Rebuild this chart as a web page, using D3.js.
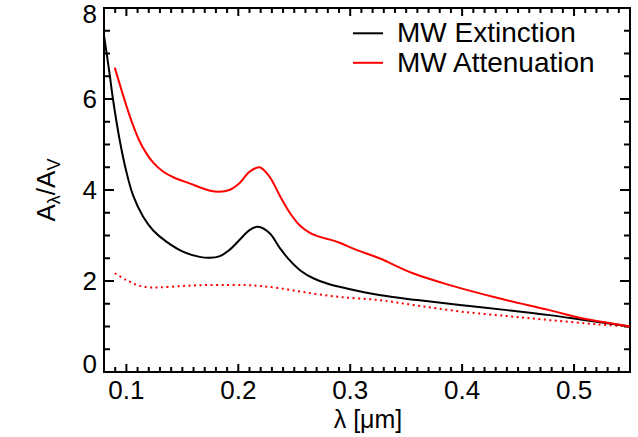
<!DOCTYPE html>
<html>
<head>
<meta charset="utf-8">
<script src="https://cdn.jsdelivr.net/npm/d3@7"></script>
<style>
  body { margin: 0; background: #fff; }
  svg text { font-family: "Liberation Sans", Arial, Helvetica, sans-serif; fill: #000; }
</style>
</head>
<body>
<svg id="myPlot" width="638" height="437"></svg>
<script>
// MW extinction curve (black)
const extWave = [0.080, 0.085, 0.088, 0.094, 0.100, 0.106, 0.115, 0.124, 0.136, 0.151, 0.1655, 0.1744, 0.183, 0.192, 0.201, 0.210, 0.2176, 0.228, 0.237, 0.245, 0.256, 0.267, 0.280, 0.296, 0.326, 0.360, 0.398, 0.440, 0.478, 0.507, 0.530, 0.550];
const extVal  = [7.40, 6.55, 6.00, 5.10, 4.40, 3.88, 3.41, 3.11, 2.86, 2.64, 2.53, 2.51, 2.54, 2.68, 2.90, 3.12, 3.19, 3.05, 2.73, 2.48, 2.22, 2.06, 1.94, 1.84, 1.69, 1.58, 1.47, 1.36, 1.25, 1.15, 1.07, 1.00];

// MW attenuation (red solid)
const attWave = [0.0896, 0.095, 0.100, 0.106, 0.112, 0.118, 0.124, 0.133, 0.142, 0.157, 0.174, 0.183, 0.192, 0.201, 0.210, 0.219, 0.228, 0.237, 0.246, 0.255, 0.264, 0.273, 0.282, 0.2905, 0.305, 0.326, 0.356, 0.389, 0.433, 0.478, 0.507, 0.530, 0.550];
const attVal  = [6.69, 6.25, 5.85, 5.42, 5.06, 4.80, 4.60, 4.40, 4.28, 4.14, 3.99, 3.96, 4.00, 4.15, 4.40, 4.50, 4.29, 3.88, 3.50, 3.22, 3.06, 2.97, 2.91, 2.84, 2.69, 2.50, 2.17, 1.91, 1.62, 1.36, 1.18, 1.08, 1.00];

// red dotted
const dotWave = [0.0896, 0.100, 0.110, 0.120, 0.130, 0.150, 0.170, 0.190, 0.207, 0.220, 0.237, 0.260, 0.290, 0.326, 0.360, 0.398, 0.440, 0.478, 0.520, 0.550];
const dotVal  = [2.17, 2.02, 1.91, 1.86, 1.86, 1.89, 1.91, 1.91, 1.91, 1.89, 1.84, 1.75, 1.65, 1.58, 1.46, 1.33, 1.23, 1.14, 1.05, 1.00];

const xTicks = [0.1, 0.2, 0.3, 0.4, 0.5];
const yTicks = [0, 2, 4, 6, 8];
const legendNames = ["MW Extinction", "MW Attenuation"];

const svg = d3.select("#myPlot");
const pLeft = 104, pRight = 630, pTop = 8, pBottom = 372;

const x = d3.scaleLinear().domain([0.08, 0.55]).range([pLeft, pRight]);
const y = d3.scaleLinear().domain([0, 8]).range([pBottom, pTop]);

const xMinor = d3.range(9, 55).map(d => d / 100).filter(d => xTicks.indexOf(d) < 0);
const yMinor = d3.range(0, 8.01, 0.5).filter(d => d % 2 !== 0);

// ticks, drawn inward on all four sides
const tickG = svg.append("g").attr("fill", "#000");
xMinor.concat(xTicks).forEach(function (d) {
  const len = xTicks.indexOf(d) >= 0 ? 8 : 5;
  tickG.append("rect").attr("x", x(d) - 1).attr("y", pBottom - len)
    .attr("width", 2).attr("height", len);
  tickG.append("rect").attr("x", x(d) - 1).attr("y", pTop)
    .attr("width", 2).attr("height", len);
});
yMinor.concat(yTicks).forEach(function (d) {
  const len = yTicks.indexOf(d) >= 0 ? 10 : 6;
  tickG.append("rect").attr("x", pLeft).attr("y", y(d) - 1)
    .attr("width", len).attr("height", 2);
  tickG.append("rect").attr("x", pRight - len).attr("y", y(d) - 1)
    .attr("width", len).attr("height", 2);
});

// frame
svg.append("rect")
  .attr("x", pLeft).attr("y", pTop)
  .attr("width", pRight - pLeft).attr("height", pBottom - pTop)
  .attr("fill", "none").attr("stroke", "#000").attr("stroke-width", 2);

// tick labels
svg.append("g").selectAll("text").data(xTicks).enter().append("text")
  .attr("x", d => x(d)).attr("y", 399)
  .attr("text-anchor", "middle").style("font-size", "26px")
  .text(d => d.toFixed(1));

svg.append("g").selectAll("text").data(yTicks).enter().append("text")
  .attr("x", 97)
  .attr("y", d => Math.min(Math.max(y(d), pTop + 6), pBottom - 8) + 9)
  .attr("text-anchor", "end").style("font-size", "26px")
  .text(d => d);

// axis titles
svg.append("text").attr("x", 368).attr("y", 428)
  .attr("text-anchor", "middle").style("font-size", "25px")
  .text("λ [μm]");

const yt = svg.append("text")
  .attr("transform", "translate(55,190) rotate(-90)")
  .attr("text-anchor", "middle").style("font-size", "26px");
yt.append("tspan").text("A");
yt.append("tspan").attr("dy", 5).style("font-size", "18px").text("λ");
yt.append("tspan").attr("dy", -5).text("/A");
yt.append("tspan").attr("dy", 5).style("font-size", "18px").text("V");

// curves
const line = d3.line()
  .x(d => x(d[0])).y(d => y(d[1]))
  .curve(d3.curveCatmullRom.alpha(0.5));

const plot = svg.append("g");
plot.append("path")
  .datum(dotWave.map((w, i) => [w, dotVal[i]]))
  .attr("d", line).attr("fill", "none")
  .attr("stroke", "#ff0000").attr("stroke-width", 2)
  .attr("stroke-dasharray", "2,3.5");
plot.append("path")
  .datum(extWave.map((w, i) => [w, extVal[i]]))
  .attr("d", line).attr("fill", "none")
  .attr("stroke", "#000").attr("stroke-width", 2);
plot.append("path")
  .datum(attWave.map((w, i) => [w, attVal[i]]))
  .attr("d", line).attr("fill", "none")
  .attr("stroke", "#ff0000").attr("stroke-width", 2);

// legend
const legColors = ["#000", "#ff0000"];
const leg = svg.append("g").selectAll("g").data(legendNames).enter().append("g")
  .attr("transform", (d, i) => "translate(0," + (i * 29.5) + ")");
leg.append("line")
  .attr("x1", 353).attr("x2", 383).attr("y1", 33.3).attr("y2", 33.3)
  .attr("stroke", (d, i) => legColors[i]).attr("stroke-width", 2);
leg.append("text")
  .attr("x", 397).attr("y", 42)
  .style("font-size", "28px")
  .text(d => d);
</script>
</body>
</html>
